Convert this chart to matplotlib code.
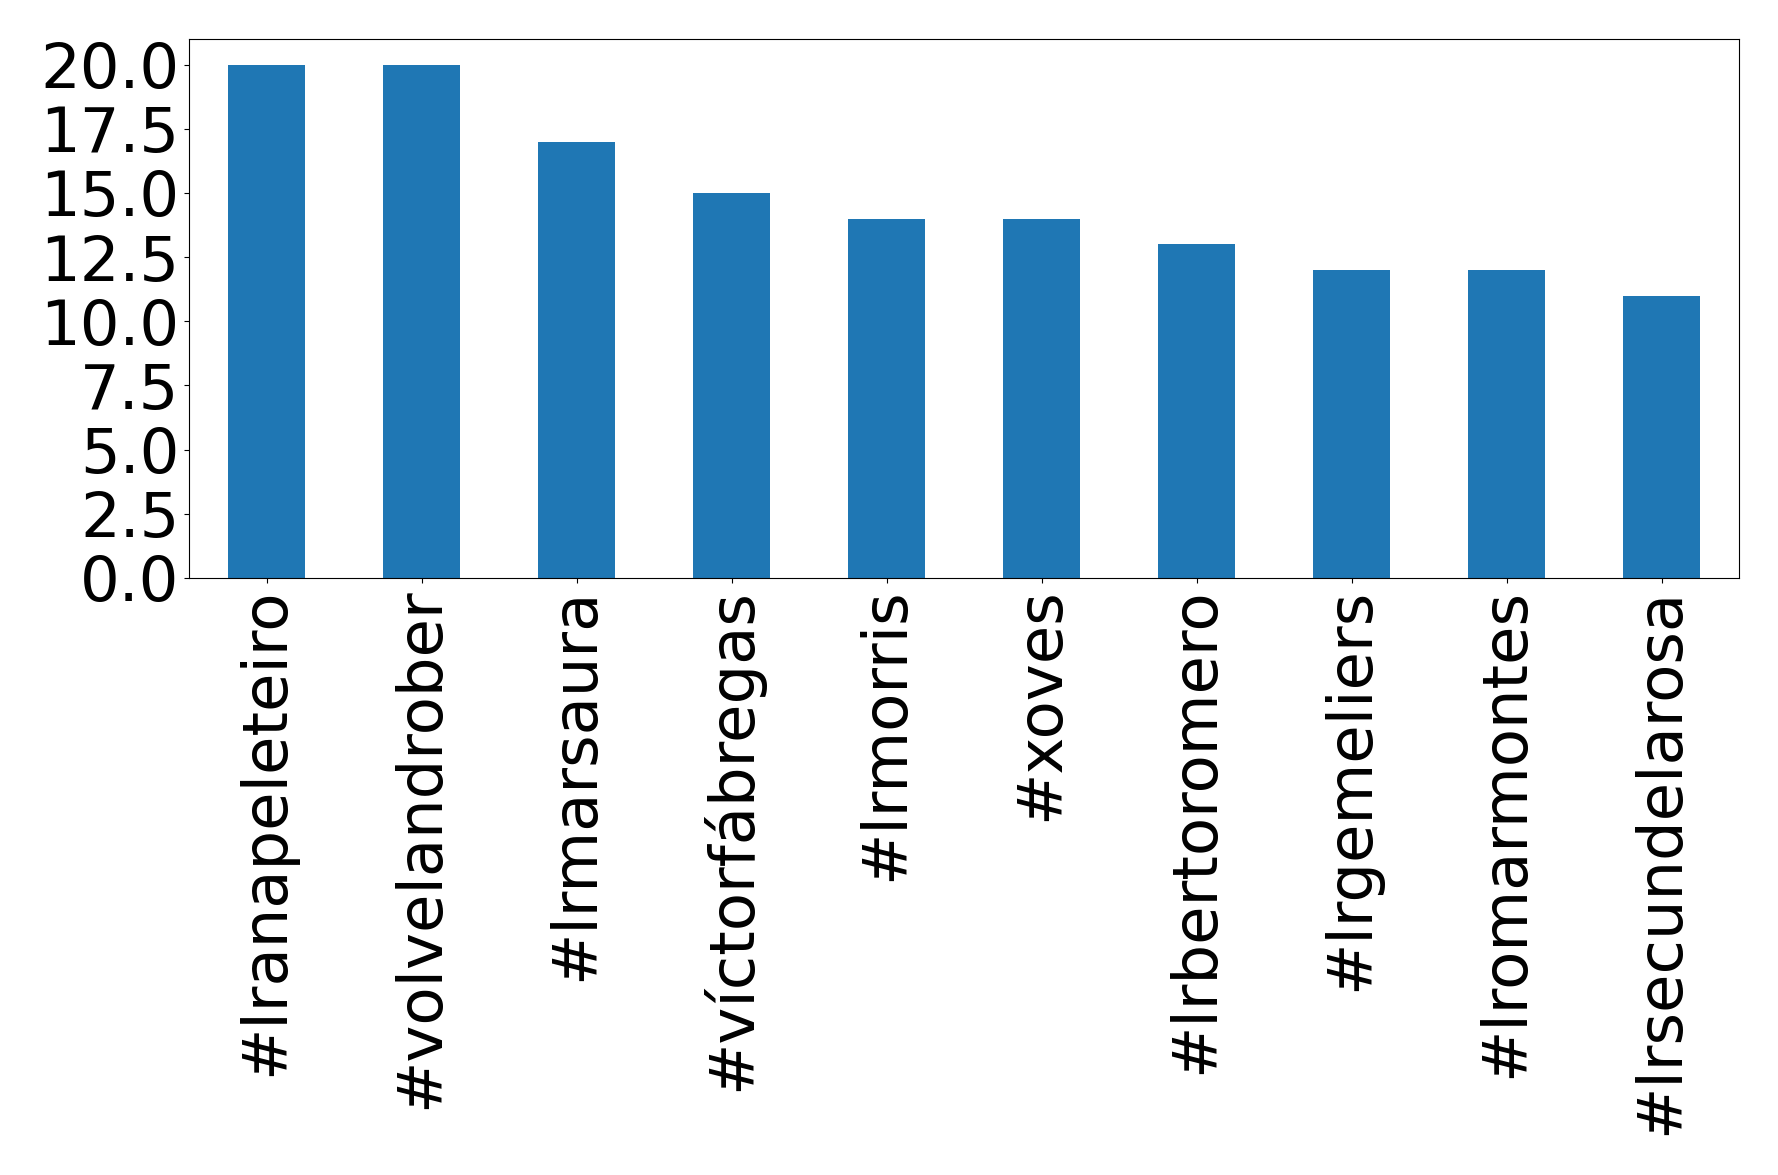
import matplotlib
matplotlib.use("Agg")
import matplotlib.pyplot as plt

categories = ["#lranapeleteiro", "#volvelandrober", "#lrmarsaura", "#víctorfábregas",
              "#lrmorris", "#xoves", "#lrbertoromero", "#lrgemeliers",
              "#lromarmontes", "#lrsecundelarosa"]
values = [20, 20, 17, 15, 14, 14, 13, 12, 12, 11]

fig = plt.figure(figsize=(17.78, 11.75), dpi=100)
ax = fig.add_axes([189/1778, 1 - 578/1175, (1739-189)/1778, (578-39)/1175])
x = range(len(categories))
ax.bar(x, values, width=0.5, color="#1f77b4")
ax.set_xlim(-0.5, len(categories) - 0.5)
ax.set_ylim(0, 21)
ax.set_yticks([0, 2.5, 5, 7.5, 10, 12.5, 15, 17.5, 20])
ax.set_yticklabels(["0.0", "2.5", "5.0", "7.5", "10.0", "12.5", "15.0", "17.5", "20.0"])
ax.set_xticks(list(x))
ax.set_xticklabels(categories, rotation=90)
ax.tick_params(labelsize=45)
fig.savefig("out.png", dpi=100)
